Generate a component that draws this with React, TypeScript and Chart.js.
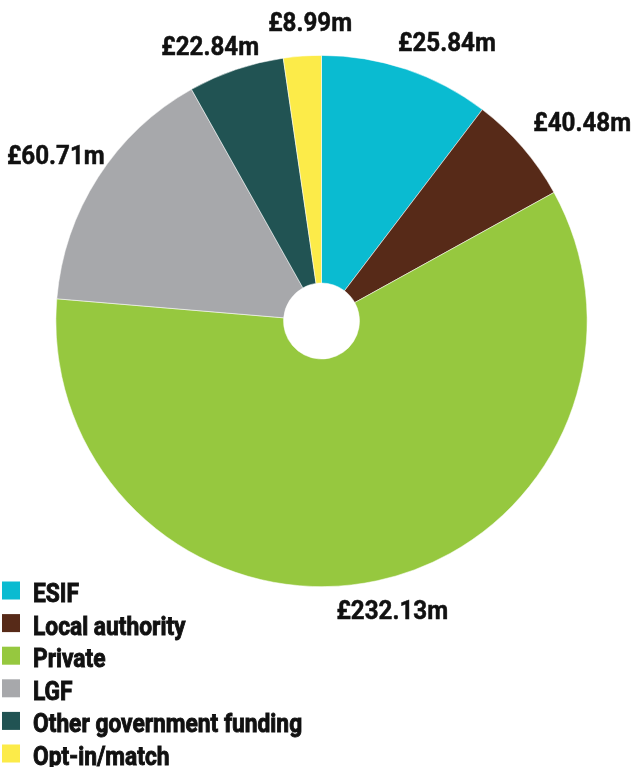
import React, { useEffect, useRef } from "react";
import { Chart, registerables } from "chart.js";

Chart.register(...registerables);

// Categories (legend order)
const categories = ["ESIF", "Local authority", "Private", "LGF", "Other government funding", "Opt-in/match"];
// Slice sizes as drawn in the picture (£m)
const sliceValues = [40.48, 25.84, 232.13, 60.71, 22.84, 8.99];
// Value labels as printed next to each slice
const valueLabels = ["£25.84m", "£40.48m", "£232.13m", "£60.71m", "£22.84m", "£8.99m"];
const sliceColors = ["#0ABBD1", "#572A18", "#96C83F", "#A7A8AB", "#215353", "#FCEB49"];

// styling: nudges for value labels relative to a mid-angle anchor
const labelNudges: [number, number][] = [
  [31, 1.5],
  [37, -6],
  [9, 0],
  [-17, -6],
  [-16, 5],
  [10, -4],
];

const FONT = "Roboto, 'Open Sans', sans-serif";

const overlayPlugin = {
  id: "overlay",
  afterDraw(chart: any) {
    const ctx = chart.ctx as CanvasRenderingContext2D;
    const meta = chart.getDatasetMeta(0);
    ctx.save();
    ctx.fillStyle = "#111111";
    ctx.strokeStyle = "#111111";
    // value labels
    meta.data.forEach((arc: any, i: number) => {
      const p = arc.getProps(["x", "y", "startAngle", "endAngle", "outerRadius"], true);
      const mid = (p.startAngle + p.endAngle) / 2;
      const r = p.outerRadius + 30;
      const x = p.x + Math.cos(mid) * r + labelNudges[i][0];
      const y = p.y + Math.sin(mid) * r + labelNudges[i][1];
      ctx.save();
      ctx.font = `bold 26px ${FONT}`;
      ctx.textAlign = "center";
      ctx.textBaseline = "alphabetic";
      ctx.translate(x, y + 9);
      ctx.scale(0.93, 1);
      ctx.lineWidth = 0.5;
      ctx.fillText(valueLabels[i], 0, 0);
      ctx.strokeText(valueLabels[i], 0, 0);
      ctx.restore();
    });
    // legend
    const labels: string[] = chart.data.labels;
    const colors: string[] = chart.data.datasets[0].backgroundColor;
    labels.forEach((lab, i) => {
      const top = 581.5 + i * 32.6;
      ctx.fillStyle = colors[i];
      ctx.fillRect(2, top, 18, 18);
      ctx.save();
      ctx.fillStyle = "#111111";
      ctx.strokeStyle = "#111111";
      ctx.font = `bold 25px ${FONT}`;
      ctx.textAlign = "left";
      ctx.textBaseline = "alphabetic";
      ctx.translate(33, top + 20.5);
      ctx.scale(0.91, 1);
      ctx.lineWidth = 0.9;
      ctx.fillText(lab, 0, 0);
      ctx.strokeText(lab, 0, 0);
      ctx.restore();
    });
    ctx.restore();
  },
};

export default function App() {
  const ref = useRef<HTMLCanvasElement | null>(null);
  useEffect(() => {
    if (!ref.current) return;
    const chart = new Chart(ref.current, {
      type: "doughnut",
      data: {
        labels: categories,
        datasets: [
          {
            data: sliceValues,
            backgroundColor: sliceColors,
            borderColor: "rgba(255,255,255,0.7)",
            borderWidth: 0.75,
          },
        ],
      },
      options: {
        responsive: false,
        maintainAspectRatio: false,
        animation: false,
        cutout: "14.3%",
        layout: { padding: { left: 55, right: 47, top: 55, bottom: 180 } },
        plugins: {
          legend: { display: false },
          tooltip: { enabled: false },
        },
      },
      plugins: [overlayPlugin],
    });
    return () => chart.destroy();
  }, []);
  return (
    <div style={{ position: "absolute", left: 0, top: 0, width: 635, height: 767, background: "#fff" }}>
      <canvas ref={ref} width={635} height={767} style={{ display: "block", width: 635, height: 767 }} />
    </div>
  );
}
